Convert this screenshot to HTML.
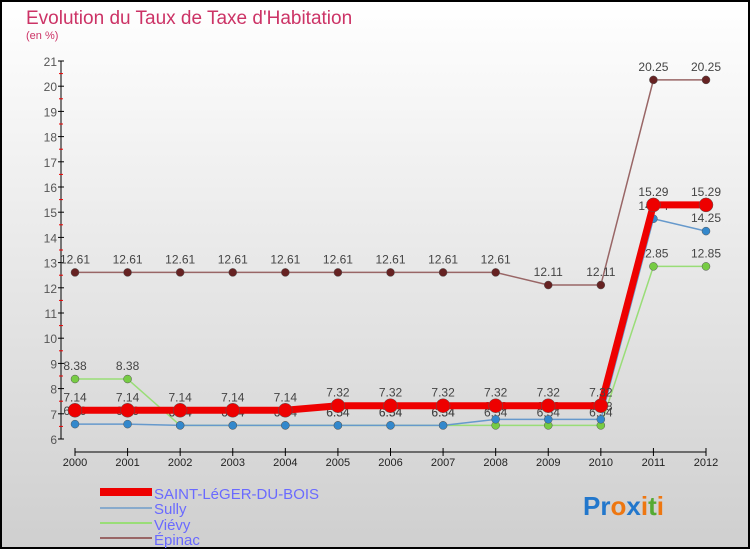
<!DOCTYPE html>
<html><head><meta charset="utf-8"><style>
body{margin:0}
#c{position:relative;width:750px;height:550px;overflow:hidden;font-family:"Liberation Sans",sans-serif}
</style></head><body>
<div id="c">
<svg id="s" width="750" height="550" xmlns="http://www.w3.org/2000/svg">
<defs><linearGradient id="bg" x1="0" y1="0" x2="0" y2="1"><stop offset="0" stop-color="#ffffff"/><stop offset="1" stop-color="#cfcfcf"/></linearGradient></defs>
<rect x="1" y="1" width="748" height="547" fill="url(#bg)" stroke="#000" stroke-width="2"/>
<text x="26" y="24" font-size="19" fill="#cc3366">Evolution du Taux de Taxe d'Habitation</text>
<text x="26" y="39" font-size="11" fill="#cc3366">(en %)</text>
<g id="axes"></g><g id="series"></g>
<g font-size="15" fill="#6a6aff">
<rect x="100" y="488" width="52" height="8" fill="#ee0000"/>
<text x="154" y="499">SAINT-LéGER-DU-BOIS</text>
<line x1="100" x2="152" y1="508" y2="508" stroke="#88aacc" stroke-width="2"/>
<text x="154" y="514">Sully</text>
<line x1="100" x2="152" y1="523" y2="523" stroke="#99dd77" stroke-width="2"/>
<text x="154" y="530">Viévy</text>
<line x1="100" x2="152" y1="538" y2="538" stroke="#996666" stroke-width="2"/>
<text x="154" y="545">Épinac</text>
</g>
<text x="583" y="515" font-size="26" font-weight="bold"><tspan fill="#2277cc">Pr</tspan><tspan fill="#ee7711">o</tspan><tspan fill="#2277cc">x</tspan><tspan fill="#ee7711">i</tspan><tspan fill="#55aa33">t</tspan><tspan fill="#ee7711">i</tspan></text>
</svg>
</div>
<script>
const years=[2000,2001,2002,2003,2004,2005,2006,2007,2008,2009,2010,2011,2012];
const yTicks=[6,7,8,9,10,11,12,13,14,15,16,17,18,19,20,21];
const saintLeger=[7.14,7.14,7.14,7.14,7.14,7.32,7.32,7.32,7.32,7.32,7.32,15.29,15.29];
const sully=[6.59,6.59,6.54,6.54,6.54,6.54,6.54,6.54,6.78,6.78,6.78,14.74,14.25];
const vievy=[8.38,8.38,6.54,6.54,6.54,6.54,6.54,6.54,6.54,6.54,6.54,12.85,12.85];
const epinac=[12.61,12.61,12.61,12.61,12.61,12.61,12.61,12.61,12.61,12.11,12.11,20.25,20.25];
const NS="http://www.w3.org/2000/svg";
const x=i=>75+i*(706-75)/(years.length-1);
const y=v=>439-(v-6)*25.2;
function mk(t,a,p){const e=document.createElementNS(NS,t);for(const k in a)e.setAttribute(k,a[k]);p.appendChild(e);return e;}
const ax=document.getElementById('axes'),sg=document.getElementById('series');
let e=mk('line',{x1:61,x2:61,y1:y(21),y2:y(6),stroke:'#000'},ax);


e=mk('line',{x1:x(0),x2:x(12),y1:452,y2:452,stroke:'#000'},ax);


yTicks.forEach(v=>{
 mk('line',{x1:58,x2:64,y1:y(v),y2:y(v),stroke:'#000'},ax);
 if(v<21)mk('line',{x1:59,x2:63,y1:y(v+0.5),y2:y(v+0.5),stroke:'#e00'},ax);
 const t=mk('text',{x:57,y:y(v)+5,'font-size':12,fill:'#555','text-anchor':'end'},ax);t.textContent=v;
 
 
});
years.forEach((yr,i)=>{
 mk('line',{x1:x(i),x2:x(i),y1:448,y2:456,stroke:'#000'},ax);
 const t=mk('text',{x:x(i),y:466,'font-size':11,fill:'#222','text-anchor':'middle'},ax);t.textContent=yr;
 
 
});
function series(data,name,col,dot,w,r){
 const g=mk('g',{},sg);
 
 
 mk('polyline',{points:data.map((v,i)=>x(i)+','+y(v)).join(' '),fill:'none',stroke:col,'stroke-width':w},g);
 data.forEach((v,i)=>{
  const c=mk('circle',{cx:x(i),cy:y(v),r:r,fill:dot,stroke:'#555','stroke-width':0.5},g);
  
  
  const t=mk('text',{x:x(i),y:y(v)-9,'font-size':12,fill:'#444','text-anchor':'middle'},g);t.textContent=v;
  
  
 });
}
series(epinac,'epinac','#996666','#662222',1.5,4);
series(vievy,'vievy','#99dd77','#77cc44',1.5,4);
series(sully,'sully','#6699cc','#3388cc',1.5,4);
series(saintLeger,'saint-leger','#ee0000','#ee0000',7,7);
</script>
</body></html>
